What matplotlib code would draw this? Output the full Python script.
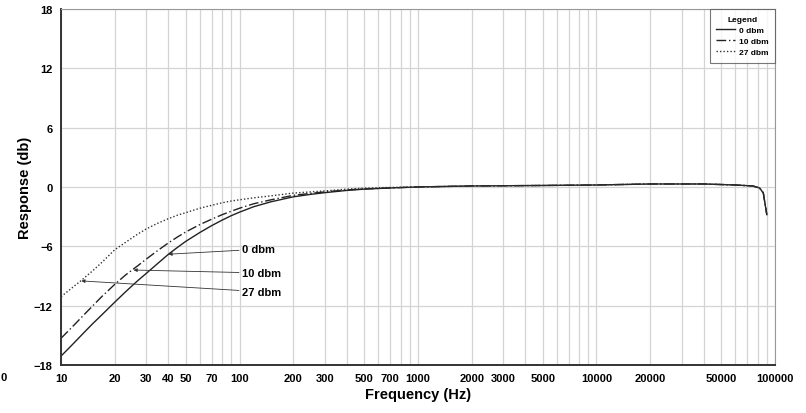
import matplotlib.pyplot as plt
from matplotlib.ticker import FixedLocator, NullFormatter

plt.rcParams['font.family'] = ['Liberation Sans', 'DejaVu Sans']
plt.rcParams['font.weight'] = 'bold'

# frequency points (Hz)
freq = [10, 11, 12, 13, 14, 15, 17, 20, 23, 25, 27, 30, 35, 40, 45, 50, 60, 70, 80, 90,
        100, 120, 150, 200, 250, 300, 400, 500, 700, 1000, 2000, 5000, 10000, 20000,
        40000, 60000, 75000, 82000, 86000, 90000]

# response (db) per input level
resp_0dbm = [-17.1, -16.35, -15.65, -15.0, -14.4, -13.85, -12.9, -11.65, -10.6, -10.0, -9.45, -8.75,
             -7.7, -6.8, -6.1, -5.5, -4.6, -3.9, -3.35, -2.9, -2.55, -2.0, -1.5, -1.0, -0.75,
             -0.58, -0.35, -0.22, -0.1, 0.0, 0.1, 0.15, 0.2, 0.3, 0.3, 0.2, 0.1, -0.1, -0.6, -2.8]
resp_10dbm = [-15.3, -14.55, -13.85, -13.2, -12.6, -12.05, -11.05, -9.85, -8.9, -8.4, -7.95, -7.3,
              -6.4, -5.65, -5.05, -4.55, -3.8, -3.25, -2.8, -2.45, -2.15, -1.7, -1.3, -0.85, -0.65,
              -0.5, -0.3, -0.2, -0.1, 0.0, 0.1, 0.15, 0.2, 0.3, 0.3, 0.2, 0.1, -0.1, -0.6, -2.8]
resp_27dbm = [-11.1, -10.5, -9.95, -9.45, -8.95, -8.5, -7.6, -6.35, -5.6, -5.15, -4.75, -4.25,
              -3.65, -3.2, -2.85, -2.6, -2.15, -1.85, -1.6, -1.42, -1.3, -1.1, -0.9, -0.62, -0.5,
              -0.4, -0.22, -0.12, -0.05, 0.0, 0.1, 0.15, 0.2, 0.3, 0.3, 0.2, 0.1, -0.1, -0.6, -2.8]

x_ticks = [10, 20, 30, 40, 50, 70, 100, 200, 300, 500, 700, 1000, 2000, 3000,
           5000, 10000, 20000, 50000, 100000]
y_ticks = [-18, -12, -6, 0, 6, 12, 18]

fig = plt.figure(figsize=(8.06, 4.14), dpi=100)
ax = fig.add_axes([0.0757, 0.116, 0.8858, 0.86])

ax.plot(freq, resp_0dbm, color='#222222', lw=1.0, ls='-', label='0 dbm')
ax.plot(freq, resp_10dbm, color='#222222', lw=1.0, ls=(0, (7, 2, 1, 2)), label='10 dbm')
ax.plot(freq, resp_27dbm, color='#333333', lw=1.0, ls=(0, (1, 1.5)), label='27 dbm')

ax.set_xscale('log')
ax.set_xlim(10, 100000)
ax.set_ylim(-18, 18)

# grid at every 1..9 step of each decade
minor = [m * 10 ** d for d in range(1, 5) for m in range(1, 10)]
ax.xaxis.set_major_locator(FixedLocator(x_ticks))
ax.xaxis.set_minor_locator(FixedLocator(minor))
ax.xaxis.set_minor_formatter(NullFormatter())
ax.set_xticklabels([str(t) for t in x_ticks])
ax.set_yticks(y_ticks)
ax.grid(True, which='both', axis='x', color='#d4d4d4', lw=0.9)
ax.grid(True, which='major', axis='y', color='#d4d4d4', lw=0.9)
ax.set_axisbelow(True)
ax.tick_params(which='both', length=0, labelsize=8, pad=6)

for s in ['top', 'right']:
    ax.spines[s].set_color('#999999')
    ax.spines[s].set_linewidth(0.8)
for s in ['left', 'bottom']:
    ax.spines[s].set_color('#333333')
    ax.spines[s].set_linewidth(1.4)

ax.set_xlabel('Frequency (Hz)', fontsize=10.5, fontweight='bold', labelpad=3)
ax.set_ylabel('Response (db)', fontsize=10.5, fontweight='bold', labelpad=1)

# callouts
arrow = dict(arrowstyle='-|>', color='#333333', lw=0.6, mutation_scale=5, shrinkA=0, shrinkB=0)
ax.annotate('0 dbm', xy=(40, -6.8), xytext=(103, -6.3), fontsize=8, fontweight='bold',
            va='center', arrowprops=arrow)
ax.annotate('10 dbm', xy=(25.5, -8.4), xytext=(103, -8.7), fontsize=8, fontweight='bold',
            va='center', arrowprops=arrow)
ax.annotate('27 dbm', xy=(13, -9.5), xytext=(103, -10.6), fontsize=8, fontweight='bold',
            va='center', arrowprops=arrow)

leg = ax.legend(loc='upper right', title='Legend', fontsize=6, title_fontsize=6,
                frameon=True, fancybox=False, edgecolor='#555555', handlelength=2.2,
                handletextpad=0.5, borderpad=0.8, labelspacing=0.4, borderaxespad=0.0)
leg.get_frame().set_linewidth(0.8)

fig.text(0.001, 0.087, '0', fontsize=8, fontweight='bold', ha='left', va='center')

fig.savefig('out.png', dpi=100)
